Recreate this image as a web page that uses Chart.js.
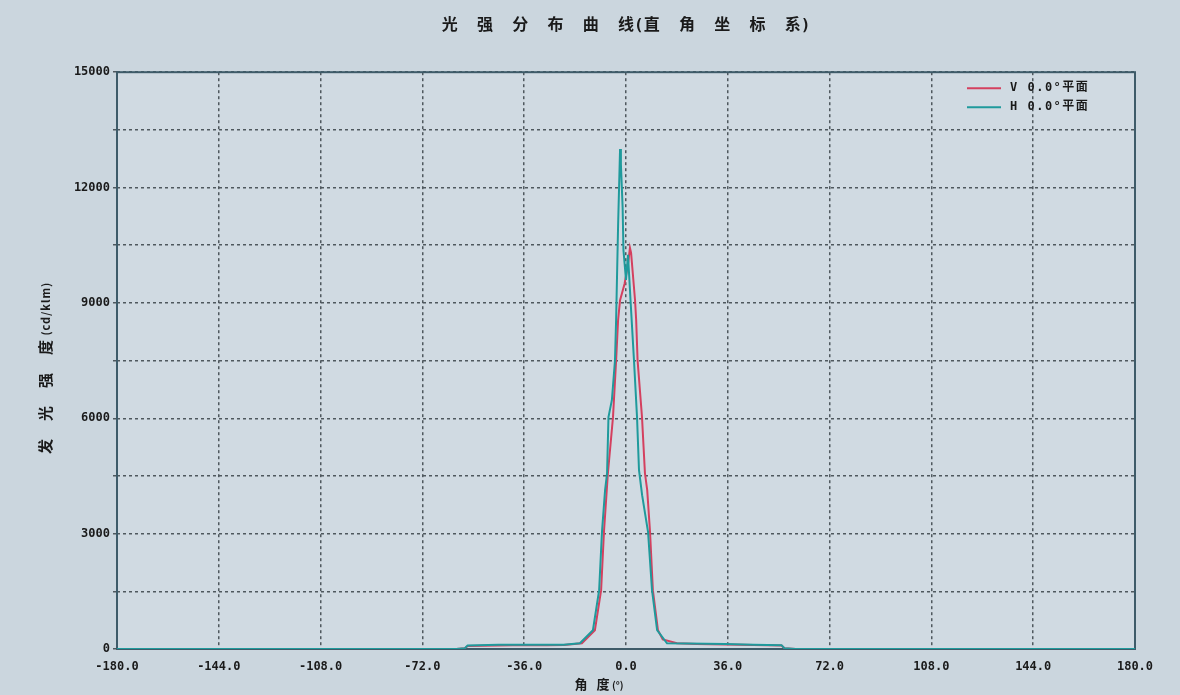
<!DOCTYPE html>
<html>
<head>
<meta charset="utf-8">
<script src="https://cdn.jsdelivr.net/npm/chart.js@4.4.1/dist/chart.umd.min.js"></script>
<style>
  html, body { margin: 0; padding: 0; background: #cbd6de; }
  #wrap { width: 1180px; height: 695px; position: relative; }
</style>
</head>
<body>
<div id="wrap"><canvas id="c"></canvas></div>
<script>
// ---- data ----
const chartTitle = '光  强  分  布  曲  线(直  角  坐  标  系)';
const yTitleMain = '发 光 强 度';
const yTitleUnit = '(cd/klm)';
const xTitleMain = '角 度';
const xTitleUnit = '(°)';
const seriesNames = ['V 0.0°平面', 'H 0.0°平面'];

const xTickValues = [-180, -144, -108, -72, -36, 0, 36, 72, 108, 144, 180];
const yTickLabels = [0, 3000, 6000, 9000, 12000, 15000];

const vAngles = [-180,-60,-57,-56,-40,-28,-22,-15.6,-11,-8.8,-7.8,-6.4,-4.6,-3.5,-2.8,-2.1,-0.5,0.7,1.4,1.8,3.2,3.6,4.1,5.66,6.7,7.5,8.5,9.5,11.3,13,18,25,40,55,56,60,180];
const vValues = [0,0,20,80,100,100,105,150,490,1530,3040,4570,6030,7500,8550,9070,9500,10000,10430,10300,9070,8550,7500,6030,4570,4130,3040,1530,490,250,150,130,110,90,20,0,0];

const hAngles = [-180,-60,-57,-56,-45,-28,-22,-16.3,-11.7,-9.5,-8.5,-7.4,-6.7,-6.2,-5.0,-3.9,-3.5,-2.8,-2.1,-1.8,-1.2,-0.9,0.0,0.7,1.41,1.6,2.83,3.9,4.6,5.7,7.8,9.2,11.0,14.5,21.6,35,45,55,56,60,180];
const hValues = [0,0,20,90,110,110,110,150,490,1530,3040,4130,4570,6030,6470,7500,8550,11000,13000,12600,11500,10370,9600,10250,9330,9070,7500,6030,4650,4000,3040,1530,490,150,140,130,110,100,20,0,0];

const seriesColors = ['#d4405f', '#1f9a9c'];

// ---- build ----
const toPoints = (xs, ys) => xs.map((x, i) => ({ x: x, y: ys[i] }));
const monoFont = "'DejaVu Sans Mono', 'Noto Sans CJK SC', monospace";
const cjkFont = "'Noto Sans CJK SC', 'DejaVu Sans', sans-serif";
const gridColor = '#4f585e';

function drawSpaced(ctx, text, x, y, step) {
  let cx = x;
  for (const ch of text) {
    if (ch === ' ') continue;
    ctx.fillText(ch, cx, y);
    cx += step;
  }
  return cx;
}

const decorPlugin = {
  id: 'decor',
  beforeDraw(chart) {
    const { ctx, chartArea: a, width, height } = chart;
    ctx.save();
    ctx.fillStyle = '#cbd6de';
    ctx.fillRect(0, 0, width, height);
    ctx.fillStyle = '#d0dae2';
    ctx.fillRect(a.left, a.top, a.right - a.left, a.bottom - a.top);
    ctx.restore();
  },
  beforeDatasetsDraw(chart) {
    const { ctx, chartArea: a } = chart;
    ctx.save();
    ctx.strokeStyle = '#3e5b69';
    ctx.lineWidth = 2;
    ctx.strokeRect(a.left, a.top, a.right - a.left, a.bottom - a.top);
    ctx.restore();
  },
  afterDraw(chart) {
    const { ctx, chartArea: a } = chart;
    ctx.save();
    chart.data.datasets.forEach((ds, i) => {
      const y = a.top + 16 + i * 19;
      ctx.strokeStyle = ds.borderColor;
      ctx.lineWidth = 2;
      ctx.beginPath();
      ctx.moveTo(a.right - 168, y);
      ctx.lineTo(a.right - 134, y);
      ctx.stroke();
      ctx.fillStyle = '#1a1a1a';
      ctx.font = 'bold 12px ' + monoFont;
      ctx.textBaseline = 'middle';
      ctx.textAlign = 'left';
      if ('letterSpacing' in ctx) ctx.letterSpacing = '1.5px';
      ctx.fillText(ds.label, a.right - 125, y);
      if ('letterSpacing' in ctx) ctx.letterSpacing = '0px';
    });
    ctx.fillStyle = '#1a1a1a';
    ctx.textBaseline = 'middle';
    ctx.textAlign = 'center';
    ctx.font = 'bold 13px ' + cjkFont;
    const yx = 684;
    let nx = drawSpaced(ctx, xTitleMain, 581, yx, 22);
    ctx.textAlign = 'left';
    ctx.font = 'bold 10px ' + cjkFont;
    ctx.fillText(xTitleUnit, nx - 13, yx + 1);
    ctx.translate(45, (a.top + a.bottom) / 2);
    ctx.rotate(-Math.PI / 2);
    ctx.textAlign = 'center';
    ctx.font = 'bold 15px ' + cjkFont;
    let ny = drawSpaced(ctx, yTitleMain, -86, 0, 33);
    ctx.textAlign = 'left';
    ctx.font = 'bold 11px ' + cjkFont;
    if ('letterSpacing' in ctx) ctx.letterSpacing = '1px';
    ctx.fillText(yTitleUnit, ny - 21, 1);
    ctx.restore();
  }
};

new Chart(document.getElementById('c'), {
  type: 'line',
  data: {
    datasets: [
      { label: seriesNames[0], data: toPoints(vAngles, vValues), borderColor: seriesColors[0], backgroundColor: seriesColors[0], borderWidth: 2, pointRadius: 0, tension: 0, order: 1 },
      { label: seriesNames[1], data: toPoints(hAngles, hValues), borderColor: seriesColors[1], backgroundColor: seriesColors[1], borderWidth: 2, pointRadius: 0, tension: 0, order: 0 }
    ]
  },
  options: {
    responsive: true,
    maintainAspectRatio: false,
    animation: false,
    layout: { padding: { left: 0, right: 45, top: 0, bottom: 0 } },
    plugins: {
      legend: { display: false },
      tooltip: { enabled: false },
      title: {
        display: true,
        fullSize: false,
        text: chartTitle,
        color: '#1a1a1a',
        font: { family: monoFont, size: 16, weight: 'bold' },
        padding: { top: 16, bottom: 37 }
      }
    },
    scales: {
      x: {
        type: 'linear',
        min: -180, max: 180,
        afterFit: (s) => { s.height = 46; },
        afterBuildTicks: (s) => { s.ticks = xTickValues.map(v => ({ value: v })); },
        ticks: {
          padding: 11,
          color: '#1a1a1a',
          font: { family: monoFont, size: 12, weight: 'bold' },
          callback: (v) => Number(v).toFixed(1),
          maxRotation: 0, autoSkip: false
        },
        grid: { color: gridColor, lineWidth: 1.5, drawTicks: false },
        border: { display: false, dash: [3, 3] }
      },
      y: {
        min: 0, max: 15000,
        afterFit: (s) => { s.width = 117; },
        ticks: {
          stepSize: 1500,
          padding: 3,
          color: '#1a1a1a',
          font: { family: monoFont, size: 12, weight: 'bold' },
          callback: (v) => yTickLabels.includes(v) ? String(v) : ''
        },
        grid: { color: gridColor, lineWidth: 1.5, drawTicks: true, tickLength: 4 },
        border: { display: false, dash: [3, 3] }
      }
    }
  },
  plugins: [decorPlugin]
});
</script>
</body>
</html>
